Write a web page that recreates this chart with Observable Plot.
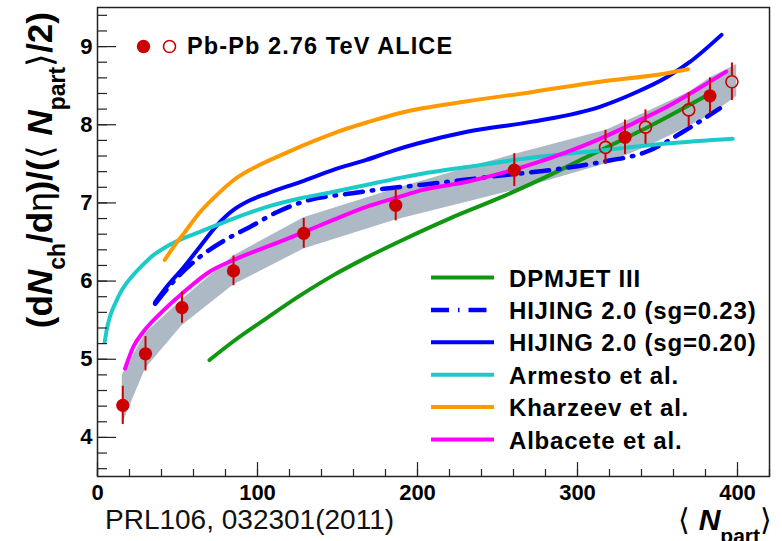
<!DOCTYPE html>
<html>
<head>
<meta charset="utf-8">
<script src="https://cdn.jsdelivr.net/npm/d3@7"></script>
<script src="https://cdn.jsdelivr.net/npm/@observablehq/plot@0.6"></script>
<style>
  body { margin: 0; background: #fff; }
  svg { display: block; }
</style>
</head>
<body>
<div id="chart"></div>
<script>
// ---------------- data ----------------
// ALICE Pb-Pb 2.76 TeV, filled markers (10% bins)
const alicePart = [15.8, 30.0, 52.8, 85.0, 128.9, 186.4, 260.5, 329.7, 382.8];
const aliceVal  = [4.41, 5.07, 5.66, 6.13, 6.61, 6.97, 7.42, 7.84, 8.37];
const aliceErr  = [0.245, 0.22, 0.2, 0.19, 0.19, 0.2, 0.21, 0.22, 0.23];
// open markers (2.5% bins)
const openPart = [317.5, 342.5, 369.5, 396.5];
const openVal  = [7.71, 7.97, 8.19, 8.55];
const openErr  = [0.22, 0.22, 0.22, 0.24];
// grey band
const bandPart = [15.5, 30.0, 52.8, 85.0, 128.9, 186.4, 260.5, 318, 345, 370, 383, 399.5];
const bandLow  = [4.17, 4.88, 5.43, 5.95, 6.41, 6.78, 7.16, 7.5, 7.73, 7.98, 8.12, 8.36];
const bandHigh = [4.8, 5.33, 5.76, 6.32, 6.81, 7.18, 7.62, 7.93, 8.18, 8.42, 8.6, 8.77];
// model curves
const dpmjetX = [70, 85, 106, 127, 147, 168, 190, 220, 252, 280, 306, 345, 383];
const dpmjetY = [4.99, 5.23, 5.53, 5.82, 6.07, 6.3, 6.52, 6.8, 7.07, 7.33, 7.59, 7.98, 8.4];
const hij23X = [36, 50, 64, 81, 95, 112, 131, 158, 179, 202, 252, 283, 314, 345, 366, 389];
const hij23Y = [5.71, 6.05, 6.31, 6.54, 6.69, 6.88, 7.03, 7.12, 7.18, 7.23, 7.35, 7.42, 7.52, 7.67, 7.91, 8.21];
const hij20X = [36, 43, 54, 64, 74.5, 85, 95, 106, 127, 147, 168, 185, 200, 231, 272, 314, 335, 356, 370, 390];
const hij20Y = [5.73, 5.92, 6.18, 6.44, 6.71, 6.91, 7.03, 7.12, 7.27, 7.42, 7.55, 7.67, 7.76, 7.91, 8.04, 8.23, 8.4, 8.61, 8.8, 9.15];
const armX = [4.5, 6, 8, 11, 14, 18, 22.4, 28, 33, 43, 55, 64, 85, 106, 127, 147, 168, 189, 202, 231, 272, 314, 356, 397];
const armY = [5.22, 5.4, 5.56, 5.71, 5.84, 5.97, 6.08, 6.2, 6.3, 6.44, 6.56, 6.63, 6.8, 6.95, 7.06, 7.14, 7.23, 7.32, 7.37, 7.46, 7.58, 7.67, 7.76, 7.82];
const kharX = [42, 48, 54, 64, 74.5, 85, 96, 108, 120, 135, 150, 170, 189, 231, 272, 314, 356, 369];
const kharY = [6.27, 6.45, 6.61, 6.88, 7.1, 7.29, 7.43, 7.55, 7.66, 7.79, 7.91, 8.04, 8.15, 8.3, 8.42, 8.55, 8.66, 8.71];
const albX = [17.2, 22.4, 28.6, 39, 54, 70, 85, 106, 127, 147, 168, 189, 202, 231, 272, 314, 335, 356, 377, 393];
const albY = [4.88, 5.16, 5.35, 5.58, 5.86, 6.12, 6.27, 6.44, 6.61, 6.78, 6.95, 7.08, 7.16, 7.27, 7.5, 7.82, 8.02, 8.23, 8.48, 8.68];
// axis ticks
const xMajor = [0, 100, 200, 300, 400];
const xMinor = d3.range(0, 421, 20);
const yMajor = [4, 5, 6, 7, 8, 9];
const yMinor = d3.range(36, 95, 2).map(v => v / 10);
// legend entries
const legendNames = ["DPMJET III", "HIJING 2.0 (sg=0.23)", "HIJING 2.0 (sg=0.20)", "Armesto et al.", "Kharzeev et al.", "Albacete et al."];
const legendColors = ["#109610", "#0000ff", "#0000ff", "#1ccaca", "#ff9900", "#ff00ff"];
const legendDash = [null, "18 9 1.5 9", null, null, null, null];

// ---------------- tables ----------------
const zip = (xs, ys) => xs.map((x, i) => ({x, y: ys[i]}));
const alice = alicePart.map((x, i) => ({x, y: aliceVal[i], e: aliceErr[i]}));
const aliceOpen = openPart.map((x, i) => ({x, y: openVal[i], e: openErr[i]}));
const band = bandPart.map((x, i) => ({x, lo: bandLow[i], hi: bandHigh[i]}));

const FONT = "'Liberation Sans', Arial, Helvetica, sans-serif";
const RED = "#cc0000";
const AX = "#222";

const curve = (data, color, extra = {}) =>
  Plot.line(data, {x: "x", y: "y", stroke: color, strokeWidth: 4, curve: "monotone-x", ...extra});

const chart = Plot.plot({
  width: 782,
  height: 541,
  marginLeft: 97,
  marginRight: 13,
  marginTop: 7,
  marginBottom: 65,
  x: {domain: [0, 420], axis: null},
  y: {domain: [3.5, 9.5], axis: null},
  style: {fontFamily: FONT, background: "#fff", color: "#000"},
  marks: [
    Plot.areaY(band, {x: "x", y1: "lo", y2: "hi", fill: "#adb9c4"}),
    curve(zip(dpmjetX, dpmjetY), legendColors[0]),
    curve(zip(hij23X, hij23Y), legendColors[1], {strokeWidth: 4.5, strokeDasharray: legendDash[1]}),
    curve(zip(hij20X, hij20Y), legendColors[2]),
    curve(zip(armX, armY), legendColors[3]),
    curve(zip(kharX, kharY), legendColors[4]),
    curve(zip(albX, albY), legendColors[5]),
    // error bars
    Plot.ruleX(alice, {x: "x", y1: d => d.y - d.e, y2: d => d.y + d.e, stroke: RED, strokeWidth: 2}),
    Plot.ruleX(aliceOpen, {x: "x", y1: d => d.y + d.e, y2: "y", insetBottom: 6, stroke: RED, strokeWidth: 2}),
    Plot.ruleX(aliceOpen, {x: "x", y1: "y", y2: d => d.y - d.e, insetTop: 6, stroke: RED, strokeWidth: 2}),
    Plot.dot(alice, {x: "x", y: "y", r: 6.6, fill: RED}),
    Plot.dot(aliceOpen, {x: "x", y: "y", r: 6, stroke: RED, strokeWidth: 1.6, fill: "none"}),
    // frame and ticks (inward, ROOT style)
    Plot.frame({stroke: AX, strokeWidth: 1.5}),
    Plot.axisY({ticks: yMinor, tickSize: -10, tickFormat: () => "", label: null, stroke: AX, strokeWidth: 1.2}),
    Plot.axisY({ticks: yMajor, tickSize: -19, tickFormat: () => "", label: null, stroke: AX, strokeWidth: 1.2}),
    Plot.axisX({ticks: xMinor, tickSize: -7, tickFormat: () => "", label: null, stroke: AX, strokeWidth: 1.2}),
    Plot.axisX({ticks: xMajor, tickSize: -14, tickFormat: () => "", label: null, stroke: AX, strokeWidth: 1.2}),
    // tick labels
    Plot.axisY({ticks: yMajor, tickSize: 0, tickPadding: 5, tickFormat: d3.format("d"), label: null, fontSize: 22, fontWeight: "bold", fill: "#000"}),
    Plot.axisX({ticks: xMajor, tickSize: 0, tickPadding: 8, tickFormat: d3.format("d"), label: null, fontSize: 22, fontWeight: "bold", fill: "#000"})
  ]
});

document.getElementById("chart").appendChild(chart);

// ---------------- texts and legends ----------------
const svg = d3.select(chart);

function richText(g, parts) {
  for (const p of parts) {
    const t = g.append("tspan").text(p.t);
    if (p.size) t.attr("font-size", p.size);
    if (p.weight) t.attr("font-weight", p.weight);
    if (p.style) t.attr("font-style", p.style);
    if (p.dy) t.attr("dy", p.dy);
    if (p.dx) t.attr("dx", p.dx);
  }
}

// y-axis title
const yTitle = svg.append("text")
  .attr("transform", "translate(52,12) rotate(-90)")
  .attr("text-anchor", "end")
  .attr("font-family", FONT)
  .attr("font-size", 35)
  .attr("font-weight", "bold")
  .attr("fill", "#000");
richText(yTitle, [
  {t: "(d"},
  {t: "N", style: "italic"},
  {t: "ch", size: 23, dy: 13},
  {t: "/d", dy: -13},
  {t: "η", weight: "normal"},
  {t: ")/("},
  {t: "⟨ ", weight: "normal"},
  {t: "N", style: "italic"},
  {t: "part", size: 23, dy: 13},
  {t: "⟩", weight: "normal", dy: -13},
  {t: "/2)"}
]);

// x-axis title
const xTitle = svg.append("text")
  .attr("x", 772).attr("y", 530)
  .attr("text-anchor", "end")
  .attr("font-family", FONT)
  .attr("font-size", 30)
  .attr("fill", "#000");
richText(xTitle, [
  {t: "⟨ "},
  {t: "N", weight: "bold", style: "italic"},
  {t: "part", weight: "bold", size: 21, dy: 13},
  {t: "⟩", dy: -13}
]);

// reference
svg.append("text")
  .attr("x", 105).attr("y", 529)
  .attr("text-anchor", "start")
  .attr("font-family", FONT)
  .attr("font-size", 28)
  .attr("fill", "#111")
  .text("PRL106, 032301(2011)");

// data legend (top left)
svg.append("circle").attr("cx", 143.5).attr("cy", 46.5).attr("r", 6.7).attr("fill", RED);
svg.append("circle").attr("cx", 169.5).attr("cy", 46.5).attr("r", 6).attr("fill", "none")
  .attr("stroke", RED).attr("stroke-width", 1.6);
svg.append("text")
  .attr("x", 187).attr("y", 54)
  .attr("text-anchor", "start")
  .attr("font-family", FONT)
  .attr("font-size", 23.5)
  .attr("font-weight", "bold")
  .attr("letter-spacing", 1.1)
  .attr("fill", "#000")
  .text("Pb-Pb 2.76 TeV ALICE");

// model legend
const lg = svg.append("g");
legendNames.forEach((name, i) => {
  const base = 286.5 + i * 32.4;
  const ln = lg.append("line")
    .attr("x1", 431).attr("x2", 494)
    .attr("y1", base - 9).attr("y2", base - 9)
    .attr("stroke", legendColors[i])
    .attr("stroke-width", i === 1 ? 4.5 : 4);
  if (legendDash[i]) ln.attr("stroke-dasharray", legendDash[i]);
  lg.append("text")
    .attr("x", 509).attr("y", base)
    .attr("text-anchor", "start")
    .attr("font-family", FONT)
    .attr("font-size", 24)
    .attr("font-weight", "bold")
    .attr("letter-spacing", 0.8)
    .attr("fill", "#000")
    .text(name);
});
</script>
</body>
</html>
